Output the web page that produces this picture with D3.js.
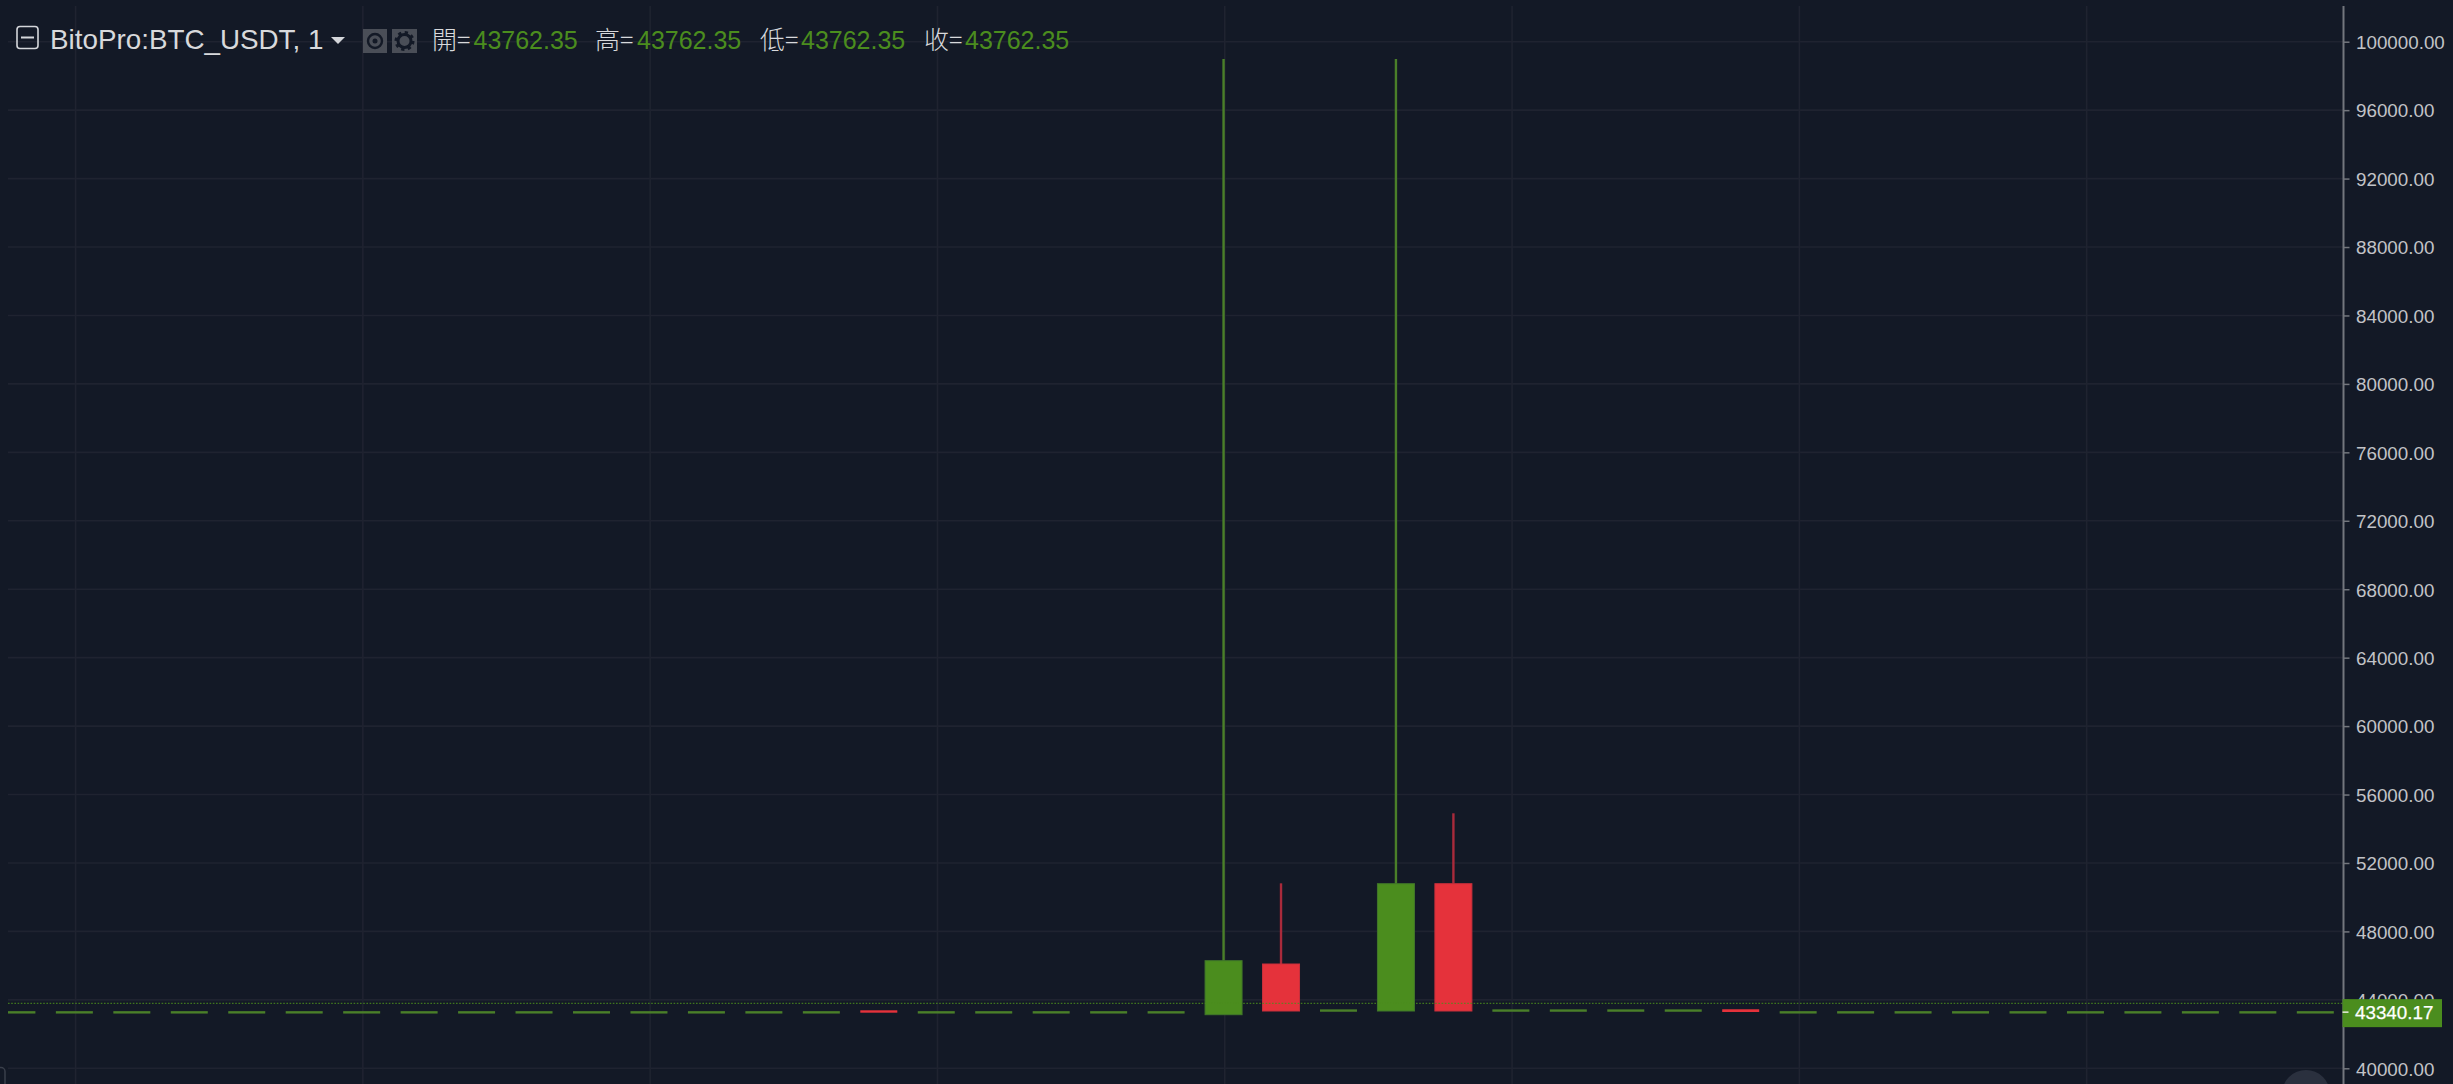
<!DOCTYPE html>
<html>
<head>
<meta charset="utf-8">
<script src="https://cdn.jsdelivr.net/npm/d3@7"></script>
<style>
html,body{margin:0;padding:0;background:#131926;overflow:hidden}
svg{display:block}
text{font-family:"Liberation Sans",Arial,sans-serif}
</style>
</head>
<body>
<svg id="chart" width="2453" height="1084"></svg>
<script>
const title = "BitoPro:BTC_USDT, 1";
const legendLabels = ["開=", "高=", "低=", "收="];
const legendValues = [43762.35, 43762.35, 43762.35, 43762.35];
const priceTicks = [100000,96000,92000,88000,84000,80000,76000,72000,68000,64000,60000,56000,52000,48000,44000,40000];
const gridBars = [1,6,11,16,21,26,31,36];
const lastPrice = 43340.17;
const crosshairPrice = 43762.35;

const opens  = [43340,43340,43340,43340,43340,43340,43340,43340,43340,43340,43340,43340,43340,43340,43340,43390,43340,43340,43340,43340,43340,43133,46096,43445,43349,50789,43445,43445,43445,43445,43450,43340,43340,43340,43340,43340,43340,43340,43340,43340,43340.17];
const closes = [43340,43340,43340,43340,43340,43340,43340,43340,43340,43340,43340,43340,43340,43340,43340,43290,43340,43340,43340,43340,43340,46289,43349,43445,50789,43349,43445,43445,43445,43445,43290,43340,43340,43340,43340,43340,43340,43340,43340,43340,43340.17];
const highs  = [43340,43340,43340,43340,43340,43340,43340,43340,43340,43340,43340,43340,43340,43340,43340,43390,43340,43340,43340,43340,43340,98990,50812,43445,98990,54904,43445,43445,43445,43445,43450,43340,43340,43340,43340,43340,43340,43340,43340,43340,43340.17];
const bars = opens.map((o,i)=>({i, o, c:closes[i], h:highs[i]}));

const C = {bg:"#131926", grid:"#1f2330", axis:"#73767d", text:"#c2c3c7", head:"#d8d9dc",
  green:"#4b8d1e", greenWick:"#4a7f29", greenEdge:"#41782a", red:"#e5323b", redWick:"#a92a3b", redEdge:"#c9303c"};

const svg = d3.select("#chart");
const paneL = 8, paneR = 2343.5, paneT = 6, paneB = 1084;

const y = d3.scaleLinear().domain([40000,100000]).range([1068.3,41.7]);
const x = d3.scaleLinear().domain([0,40]).range([16.9,2315.3]);
const bodyW = 37;

svg.append("rect").attr("width",2453).attr("height",1084).attr("fill",C.bg);
svg.append("defs").append("clipPath").attr("id","pane").append("rect")
  .attr("x",paneL).attr("y",paneT).attr("width",paneR-paneL).attr("height",paneB-paneT);

const pane = svg.append("g").attr("clip-path","url(#pane)");

// grid
pane.selectAll("line.h").data(priceTicks).join("line").attr("class","h")
  .attr("x1",paneL).attr("x2",paneR).attr("y1",d=>y(d)).attr("y2",d=>y(d))
  .attr("stroke",C.grid).attr("stroke-width",1.6);
pane.selectAll("line.v").data(gridBars).join("line").attr("class","v")
  .attr("x1",d=>x(d)+1.2).attr("x2",d=>x(d)+1.2).attr("y1",paneT).attr("y2",paneB)
  .attr("stroke",C.grid).attr("stroke-width",1.6);

// candles
const g = pane.selectAll("g.bar").data(bars).join("g").attr("class","bar");
const up = d => d.c >= d.o;
const tall = d => Math.abs(d.c-d.o)>200;
g.filter(d=>d.h>Math.max(d.o,d.c)).append("line")
  .attr("x1",d=>x(d.i)).attr("x2",d=>x(d.i))
  .attr("y1",d=>y(d.h)).attr("y2",d=>y(Math.max(d.o,d.c)))
  .attr("stroke",d=>up(d)?C.greenWick:C.redWick).attr("stroke-width",2.4);
g.append("rect")
  .attr("x",d=>x(d.i)-bodyW/2).attr("width",bodyW)
  .attr("y",d=>y(Math.max(d.o,d.c)))
  .attr("height",d=>Math.max(2.4,y(Math.min(d.o,d.c))-y(Math.max(d.o,d.c))))
  .attr("fill",d=>{
    if(up(d)) return tall(d)?C.green:C.greenWick;
    return C.red;
  })
  .attr("stroke",d=>{
    if(!tall(d)) return "none";
    return up(d)?C.greenEdge:C.redEdge;
  }).attr("stroke-width",1);

// crosshair / open price dotted line
pane.append("line").attr("x1",paneL).attr("x2",paneR).attr("y1",y(crosshairPrice)-0.5).attr("y2",y(crosshairPrice)-0.5)
  .attr("stroke","#4b8d1e").attr("stroke-opacity",0.8).attr("stroke-width",1.2).attr("stroke-dasharray","1.6 1.6");

// axis
const axis = d3.axisRight(y).tickValues(priceTicks).tickSize(6).tickPadding(6)
  .tickFormat(d=>d3.format(".2f")(d));
const ag = svg.append("g").attr("transform",`translate(${paneR},0)`).call(axis);
ag.select(".domain").remove();
ag.selectAll("line").attr("stroke",C.axis).attr("stroke-width",1.5);
ag.selectAll("text").attr("fill",C.text).attr("font-size",18.8).attr("x",12.5).attr("dy","0.36em");
svg.append("line").attr("x1",paneR).attr("x2",paneR).attr("y1",paneT).attr("y2",paneB)
  .attr("stroke",C.axis).attr("stroke-width",2);

// last price label
const ly = y(lastPrice)+1;
svg.append("rect").attr("x",paneR-1).attr("y",ly-13).attr("width",99.5).attr("height",28).attr("fill",C.green);
svg.append("line").attr("x1",paneR-1).attr("x2",paneR+5).attr("y1",ly).attr("y2",ly).attr("stroke","#e8ecdf").attr("stroke-width",1.5);
svg.append("text").attr("x",paneR+11.5).attr("y",ly+0.5).attr("dy","0.36em").attr("fill","#ffffff").attr("font-size",18.8)
  .attr("stroke","#ffffff").attr("stroke-width",0.25)
  .text(d3.format(".2f")(lastPrice));

// floating button, bottom
svg.append("circle").attr("cx",2306).attr("cy",1094).attr("r",24).attr("fill","#2a303e");
svg.append("path").attr("d","M0,1067.5 h1 a4,4 0 0 1 4,4 V1084").attr("fill","none").attr("stroke","#3a3f4b").attr("stroke-width",1.5);

// header
const hd = svg.append("g");
hd.append("rect").attr("x",17).attr("y",26.5).attr("width",21).attr("height",22).attr("rx",3)
  .attr("fill","none").attr("stroke","#d4d6da").attr("stroke-width",1.6);
hd.append("line").attr("x1",21).attr("x2",34).attr("y1",37.5).attr("y2",37.5).attr("stroke","#d4d6da").attr("stroke-width",2);
hd.append("text").attr("x",50).attr("y",49).attr("fill",C.head).attr("font-size",27.8).text(title);
hd.append("path").attr("d","M331,37 L345,37 L338,44 Z").attr("fill","#d4d6da");

// eye & gear buttons
hd.append("rect").attr("x",363).attr("y",29).attr("width",24).attr("height",24).attr("fill","#4a4e57");
hd.append("circle").attr("cx",375).attr("cy",41).attr("r",7).attr("fill","none").attr("stroke","#131926").attr("stroke-width",2.4);
hd.append("circle").attr("cx",375).attr("cy",41).attr("r",2.5).attr("fill","#131926");
hd.append("rect").attr("x",392).attr("y",29).attr("width",25).attr("height",24).attr("fill","#4a4e57");
hd.append("circle").attr("cx",404.5).attr("cy",41).attr("r",6.5).attr("fill","none").attr("stroke","#131926").attr("stroke-width",3);
hd.append("circle").attr("cx",404.5).attr("cy",41).attr("r",8.5).attr("fill","none").attr("stroke","#131926").attr("stroke-width",3).attr("stroke-dasharray","3.2 3.47");

const labelX = [432,595,760,924];
const valueX = [473.5,637,801,965];
legendLabels.forEach((t,i)=>{
  hd.append("text").attr("x",labelX[i]).attr("y",49).attr("fill",C.head).attr("font-size",25)
    .style("font-family",'"Noto Sans CJK TC","Liberation Sans",sans-serif').style("font-weight",300).text(t);
  hd.append("text").attr("x",valueX[i]).attr("y",49).attr("fill",C.green).attr("font-size",25)
    .text(d3.format(".2f")(legendValues[i]));
});
</script>
</body>
</html>
